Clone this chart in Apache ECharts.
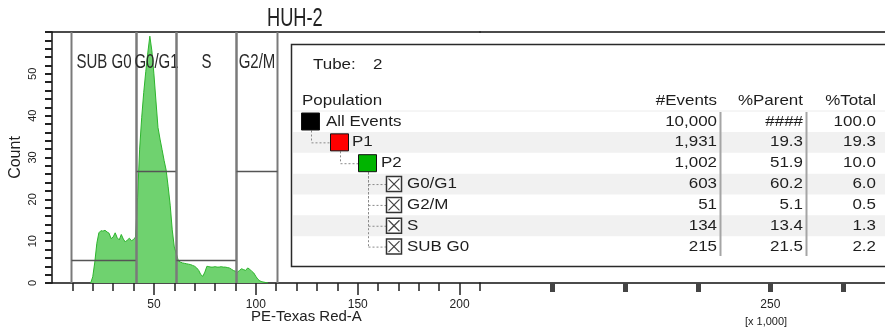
<!DOCTYPE html>
<html><head><meta charset="utf-8">
<script src="https://cdn.jsdelivr.net/npm/echarts@6/dist/echarts.min.js"></script>
<style>html,body{margin:0;padding:0;background:#fff}#c{width:885px;height:330px}</style>
</head><body><div id="c"></div>
<script>
// ---------- data ----------
const chartTitle = 'HUH-2';
const xAxisName = 'PE-Texas Red-A';
const xUnitNote = '[x 1,000]';
const yAxisName = 'Count';

const binValues = [19,20,21,22,23,24,25,26,27,28,29,30,31,32,33,34,35,36,37,38,39,40,41,42,43,44,45,46,47,48,
  49,50,51,52,53,54,55,56,57,58,59,60,61,62,63,64,65,66,67,68,69,70,71,72,73,74,75,76,77,78,
  79,80,81,82,83,84,85,86,87,88,89,90,91,92,93,94,95,96,97,98,99,100,101,102,103,104,105,106];
const counts = [0,1.5,5,9.5,12,12.5,12.4,12.6,12.2,11.9,
  10.6,11.0,12.0,10.8,10.3,11.6,10.5,9.8,10.3,10.7,
  10.1,10.4,11.0,20.5,32,39.5,45.5,50.5,55,59,
  55.5,50,43.5,37.2,34.4,31.9,29.3,27,23,18.6,
  12.7,8.6,7,5.3,5.0,4.8,4.7,4.6,4.5,4.4,
  4.2,4.0,3.6,3.0,2.0,1.6,2.6,4.0,3.9,3.8,
  3.8,3.9,3.8,3.8,3.9,3.8,3.8,3.7,3.6,3.3,
  3.0,2.8,2.6,3.0,3.4,3.2,3.0,3.6,3.3,2.8,
  2.4,1.6,0.9,0.5,0.3,0.2,0.1,0];

const gateNames = ['SUB G0','G0/G1','S','G2/M'];
const gateStart = [9.3, 41.2, 60.8, 90.3];
const gateEnd   = [41.2, 60.8, 90.3, 110.4];
const gateLevel = [5.5, 26.8, 5.5, 26.8];

const xMajorTicks = [50,100,150,200];
const xMinorTicks = [10,20,30,40,60,70,80,90,110,120,130,140,160,170,180,190,210];
const xFarTicks = [220,230,240,250,260];
const xFarLabels = [250];

const tubeLabel = 'Tube:';
const tubeNumber = '2';
const tableHeaders = ['Population','#Events','%Parent','%Total'];
const popNames  = ['All Events','P1','P2','G0/G1','G2/M','S','SUB G0'];
const popEvents = [10000,1931,1002,603,51,134,215];
const popParent = [null,19.3,51.9,60.2,5.1,13.4,21.5];
const popTotal  = [100.0,19.3,10.0,6.0,0.5,1.3,2.2];
const popLevel  = [0,1,2,3,3,3,3];
const popParentIdx = [-1,0,1,2,2,2,2];
const popColor  = ['#000000','#ff0000','#00b400',null,null,null,null];

// ---------- table graphic ----------
const FF = '"Liberation Sans", Arial, sans-serif';
const TXT = '#1e1e1e';
function T(x, y, text, o) {
  o = o || {};
  return {type:'text', x:x, y:y, z:60, scaleX:(o.sx==null?1.13:o.sx), silent:true,
    style:{text:text, fill:o.fill||TXT, fontSize:o.fs||15, fontFamily:o.ff||FF,
      align:o.al||'left', verticalAlign:'middle'}};
}
function L(x1,y1,x2,y2,stroke,w,dash,z){
  return {type:'line', z:(z||55), silent:true, shape:{x1:x1,y1:y1,x2:x2,y2:y2},
    style:{stroke:stroke, lineWidth:w, lineDash:dash||null}};
}
const els = [];
els.push({type:'rect', z:50, silent:true, shape:{x:291.5,y:44.5,width:620,height:222},
  style:{fill:'#fff', stroke:'#2a2a2a', lineWidth:1.5}});
els.push(T(313, 65, tubeLabel));
els.push(T(373, 65, tubeNumber));
const rowY = i => 121.5 + i*20.85;
const levelX = [301, 330, 358, 386];
const labelX = [326, 352, 381, 407];
const colRight = [null, 717, 803, 876];
els.push(L(293, 111, 885, 111, '#ececec', 1));
popNames.forEach((n,i)=>{
  if (i % 2 === 1) {
    els.push({type:'rect', z:51, silent:true, shape:{x:293,y:rowY(i)-10.4,width:600,height:20.8}, style:{fill:'#f1f1f1'}});
  }
});
els.push(T(302, 101, tableHeaders[0]));
for (let c=1;c<4;c++) els.push(T(colRight[c], 101, tableHeaders[c], {al:'right'}));
popNames.forEach((n,i)=>{
  const y = rowY(i), lv = popLevel[i], bx = levelX[lv];
  if (popColor[i]) {
    els.push({type:'rect', z:58, silent:true, shape:{x:bx+0.5,y:y-8.5,width:18,height:17},
      style:{fill:popColor[i], stroke:'#111', lineWidth:1}});
  } else {
    els.push({type:'rect', z:58, silent:true, shape:{x:bx+0.5,y:y-7.5,width:15,height:15},
      style:{fill:'#fff', stroke:'#333', lineWidth:1.5}});
    els.push(L(bx+2.5, y-5.5, bx+13.5, y+5.5, '#444', 1.2, null, 59));
    els.push(L(bx+13.5, y-5.5, bx+2.5, y+5.5, '#444', 1.2, null, 59));
  }
  const p = popParentIdx[i];
  if (p >= 0) {
    const px = levelX[popLevel[p]] + 10.5;
    els.push(L(px, rowY(p)+9, px, y, '#8a8a8a', 1, [2,2]));
    els.push(L(px, y+0.5, bx, y+0.5, '#8a8a8a', 1, [2,2]));
  }
  els.push(T(labelX[lv], y, n));
  els.push(T(colRight[1], y, popEvents[i].toLocaleString('en-US'), {al:'right'}));
  els.push(T(colRight[2], y, popParent[i]==null ? '####' : popParent[i].toFixed(1), {al:'right'}));
  els.push(T(colRight[3], y, popTotal[i].toFixed(1), {al:'right'}));
});
els.push(L(720.5, 112, 720.5, 256, '#a5a5a5', 2));
els.push(L(806.5, 112, 806.5, 256, '#a5a5a5', 2));
// titles
els.push(T(267, 19, chartTitle, {fs:25, sx:0.73, fill:'#222'}));
els.push(T(251, 317, xAxisName, {fs:15, sx:1, fill:'#222'}));
els.push(T(766, 322, xUnitNote, {fs:11, sx:1, al:'center', fill:'#222'}));

// ---------- chart ----------
const axisLineStyle = {color:'#111', width:1.5};
const option = {
  animation:false,
  backgroundColor:'#fff',
  grid:[
    {left:52, top:32, width:428, height:251, containLabel:false, outerBoundsMode:'none'},
    {left:480, top:32, right:-16, height:251, containLabel:false, outerBoundsMode:'none'}
  ],
  xAxis:[
    {gridIndex:0, type:'value', min:0, max:210, position:'bottom',
      axisLine:{show:true, onZero:false, lineStyle:axisLineStyle},
      axisTick:{show:true, length:12, customValues:xMajorTicks, lineStyle:{color:'#222', width:1.5}},
      axisLabel:{show:true, customValues:xMajorTicks, margin:16, fontSize:12, color:'#222', fontFamily:FF},
      splitLine:{show:false}},
    {gridIndex:0, type:'value', min:0, max:210, position:'bottom',
      axisLine:{show:false},
      axisTick:{show:true, length:8, customValues:xMinorTicks, lineStyle:{color:'#222', width:1.5}},
      axisLabel:{show:false}, splitLine:{show:false}},
    {gridIndex:1, type:'value', min:210, max:268, position:'bottom',
      axisLine:{show:true, onZero:false, lineStyle:axisLineStyle},
      axisTick:{show:true, length:9, customValues:xFarTicks, lineStyle:{color:'#444', width:5}},
      axisLabel:{show:true, customValues:xFarLabels, margin:16, fontSize:12, color:'#222', fontFamily:FF},
      splitLine:{show:false}},
    {gridIndex:0, type:'value', min:0, max:210, position:'top',
      axisLine:{show:true, onZero:false, lineStyle:axisLineStyle}, axisTick:{show:false}, axisLabel:{show:false}, splitLine:{show:false}},
    {gridIndex:1, type:'value', min:210, max:268, position:'top',
      axisLine:{show:true, onZero:false, lineStyle:axisLineStyle}, axisTick:{show:false}, axisLabel:{show:false}, splitLine:{show:false}}
  ],
  yAxis:[
    {gridIndex:0, type:'value', min:0, max:60, interval:10,
      name:yAxisName, nameLocation:'middle', nameGap:28, nameRotate:90,
      nameTextStyle:{fontSize:16, color:'#222', fontFamily:FF},
      axisLine:{show:true, onZero:false, lineStyle:axisLineStyle},
      axisTick:{show:true, length:7, lineStyle:{color:'#222', width:2}},
      minorTick:{show:true, splitNumber:5, length:7, lineStyle:{color:'#222', width:2}},
      axisLabel:{show:true, rotate:90, margin:14, fontSize:11, color:'#222', fontFamily:FF,
        formatter: v => v >= 60 ? '' : String(v)},
      splitLine:{show:false}, minorSplitLine:{show:false}},
    {gridIndex:1, type:'value', min:0, max:60, show:false}
  ],
  graphic:{elements:els},
  series:[
    {type:'line', xAxisIndex:0, yAxisIndex:0, z:2, silent:true,
      data: binValues.map((b,i)=>[b, counts[i]]),
      symbol:'none', showSymbol:false, smooth:false,
      lineStyle:{color:'#2db42d', width:1},
      areaStyle:{color:'#6fd26f', opacity:1}},
    {type:'custom', xAxisIndex:0, yAxisIndex:0, z:3, silent:true, clip:false,
      data: gateNames.map((n,i)=>[gateStart[i], gateEnd[i], gateLevel[i]]),
      renderItem: function(params, api){
        const x0 = Math.round(api.coord([api.value(0), 0])[0]) + 0.5;
        const x1 = Math.round(api.coord([api.value(1), 0])[0]) + 0.5;
        const yl = Math.round(api.coord([0, api.value(2)])[1]) + 0.5;
        const cs = params.coordSys;
        const top = cs.y, bot = cs.y + cs.height;
        return {type:'group', children:[
          {type:'line', shape:{x1:x0,y1:top,x2:x0,y2:bot}, style:{stroke:'#7a7a7a', lineWidth:2}},
          {type:'line', shape:{x1:x1,y1:top,x2:x1,y2:bot}, style:{stroke:'#7a7a7a', lineWidth:2}},
          {type:'line', shape:{x1:x0,y1:yl,x2:x1,y2:yl}, style:{stroke:'#555', lineWidth:1.5}},
          {type:'text', x:(x0+x1)/2, y:top+30, scaleX:0.75,
            style:{text:gateNames[params.dataIndex], fill:'#2a2a2a', fontSize:20, fontFamily:FF,
              align:'center', verticalAlign:'middle'}}
        ]};
      }}
  ]
};
const chart = echarts.init(document.getElementById('c'), null, {renderer:'canvas'});
chart.setOption(option);
</script>
</body></html>
